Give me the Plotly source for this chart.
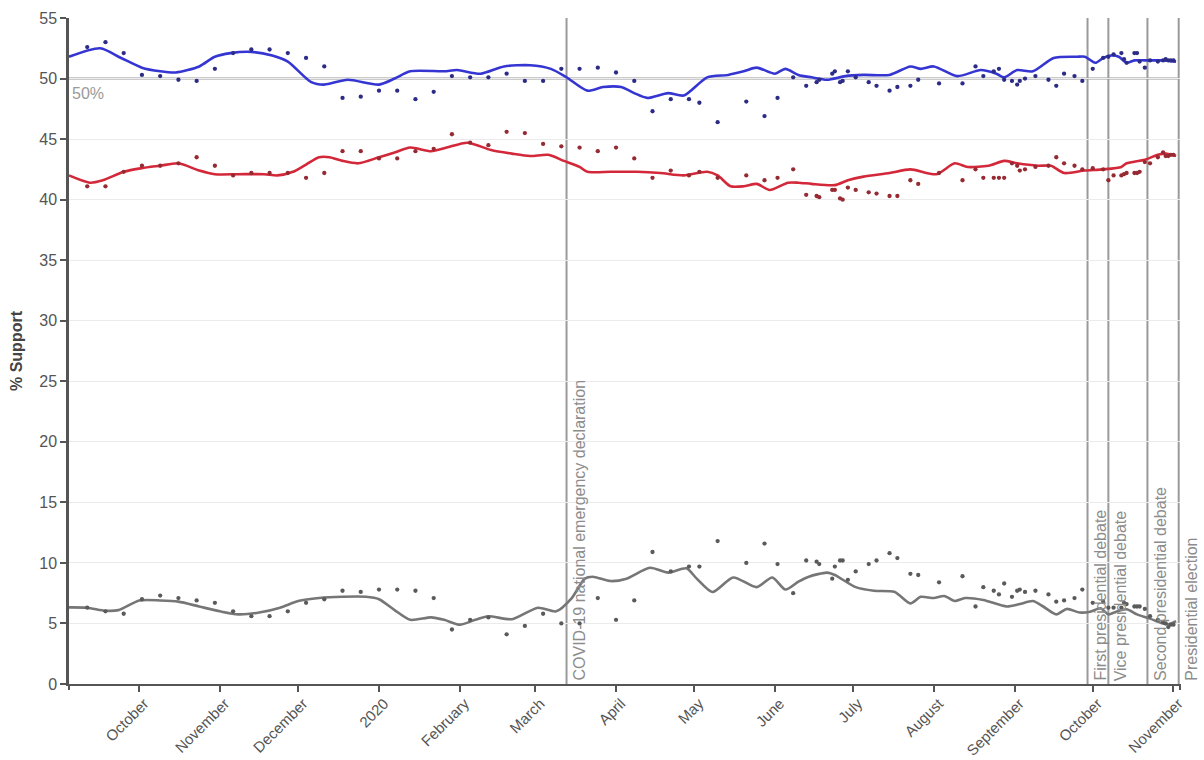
import plotly.graph_objects as go

# ---- weekly / daily poll results -------------------------------------------
poll_dates = [
    "2019-09-11", "2019-09-18", "2019-09-25", "2019-10-02", "2019-10-09", "2019-10-16", "2019-10-23", "2019-10-30",
    "2019-11-06", "2019-11-13", "2019-11-20", "2019-11-27", "2019-12-04", "2019-12-11", "2019-12-18", "2019-12-25",
    "2020-01-01", "2020-01-08", "2020-01-15", "2020-01-22", "2020-01-29", "2020-02-05", "2020-02-12", "2020-02-19",
    "2020-02-26", "2020-03-04", "2020-03-11", "2020-03-18", "2020-03-25", "2020-04-01", "2020-04-08", "2020-04-15",
    "2020-04-22", "2020-04-29", "2020-05-03", "2020-05-10", "2020-05-21", "2020-05-28", "2020-06-02", "2020-06-08",
    "2020-06-13", "2020-06-17", "2020-06-18", "2020-06-23", "2020-06-24", "2020-06-26", "2020-06-27", "2020-06-29",
    "2020-07-02", "2020-07-07", "2020-07-10", "2020-07-15", "2020-07-18", "2020-07-23", "2020-07-26", "2020-08-03",
    "2020-08-12", "2020-08-17", "2020-08-20", "2020-08-24", "2020-08-26", "2020-08-28", "2020-08-31", "2020-09-02",
    "2020-09-03", "2020-09-05", "2020-09-09", "2020-09-14", "2020-09-17", "2020-09-20", "2020-09-24", "2020-09-27",
    "2020-10-01", "2020-10-05", "2020-10-07", "2020-10-09", "2020-10-12", "2020-10-13", "2020-10-14", "2020-10-17",
    "2020-10-18", "2020-10-19", "2020-10-21", "2020-10-23", "2020-10-26", "2020-10-28", "2020-10-29", "2020-10-30",
    "2020-10-31", "2020-11-01",
]
poll_dem = [
    52.6, 53.0, 52.1, 50.3, 50.2, 49.9, 49.8, 50.8,
    52.1, 52.4, 52.4, 52.1, 51.7, 51.0, 48.4, 48.5,
    49.0, 49.0, 48.3, 48.9, 50.2, 50.1, 50.1, 50.4,
    49.8, 49.8, 50.8, 50.8, 50.9, 50.5, 49.8, 47.3,
    48.3, 48.3, 48.0, 46.4, 48.1, 46.9, 48.4, 50.1,
    49.4, 49.7, 49.9, 50.4, 50.6, 49.7, 49.8, 50.6,
    50.1, 49.7, 49.4, 49.0, 49.3, 49.4, 49.9, 49.6,
    49.6, 51.0, 50.2, 50.6, 50.8, 49.9, 49.8, 49.5,
    49.8, 50.0, 50.2, 49.9, 49.4, 50.4, 50.2, 49.8,
    50.8, 51.7, 51.8, 52.0, 52.1, 51.6, 51.3, 52.1,
    52.1, 51.4, 50.9, 51.5, 51.4, 51.5, 51.6, 51.5,
    51.5, 51.5,
]
poll_rep = [
    41.1, 41.1, 42.3, 42.8, 42.8, 43.0, 43.5, 42.8,
    42.0, 42.2, 42.2, 42.2, 41.8, 42.2, 44.0, 44.0,
    43.4, 43.4, 44.0, 44.2, 45.4, 44.7, 44.5, 45.6,
    45.5, 44.6, 44.4, 44.3, 44.0, 44.3, 43.4, 41.8,
    42.4, 42.0, 42.3, 41.8, 42.0, 41.6, 41.8, 42.5,
    40.4, 40.3, 40.2, 40.8, 40.8, 40.1, 40.0, 41.0,
    40.8, 40.6, 40.5, 40.3, 40.3, 41.6, 41.3, 42.2,
    41.6, 42.5, 41.8, 41.8, 41.8, 41.8, 43.0, 42.8,
    42.4, 42.5, 42.7, 42.8, 43.5, 43.0, 42.8, 42.5,
    42.6, 42.5, 41.6, 42.0, 42.0, 42.1, 42.2, 42.2,
    42.2, 42.3, 43.1, 43.0, 43.5, 43.9, 43.6, 43.6,
    43.7, 43.7,
]
poll_other = [
    6.3, 6.0, 5.8, 7.0, 7.3, 7.1, 6.9, 6.7,
    6.0, 5.6, 5.6, 6.0, 6.7, 7.0, 7.7, 7.6,
    7.8, 7.8, 7.7, 7.1, 4.5, 5.3, 5.5, 4.1,
    4.8, 5.8, 5.0, 5.0, 7.1, 5.3, 6.9, 10.9,
    9.3, 9.7, 9.7, 11.8, 10.0, 11.6, 9.9, 7.5,
    10.2, 10.1, 9.9, 8.7, 9.7, 10.2, 10.2, 8.6,
    9.3, 9.9, 10.2, 10.8, 10.4, 9.1, 9.0, 8.4,
    8.9, 6.4, 8.0, 7.7, 7.4, 8.3, 7.2, 7.7,
    7.8, 7.6, 7.7, 7.4, 6.8, 6.9, 7.1, 7.8,
    6.7, 6.8, 6.3, 6.3, 6.3, 6.7, 6.6, 6.4,
    6.4, 6.4, 6.2, 5.6, 5.3, 5.1, 5.0, 4.7,
    4.9, 4.9,
]

# ---- smoothed trends ----------------------------------------------------------
dem_trend_dates = [
    "2019-09-04", "2019-09-16", "2019-09-24", "2019-10-02", "2019-10-09", "2019-10-15", "2019-10-24", "2019-10-30",
    "2019-11-05", "2019-11-13", "2019-11-21", "2019-11-27", "2019-12-06", "2019-12-11", "2019-12-20", "2020-01-01",
    "2020-01-07", "2020-01-13", "2020-01-26", "2020-01-31", "2020-02-09", "2020-02-18", "2020-02-28", "2020-03-07",
    "2020-03-13", "2020-03-21", "2020-03-27", "2020-04-03", "2020-04-08", "2020-04-13", "2020-04-21", "2020-04-27",
    "2020-05-06", "2020-05-14", "2020-05-20", "2020-05-25", "2020-06-01", "2020-06-05", "2020-06-10", "2020-06-15",
    "2020-06-21", "2020-06-28", "2020-07-05", "2020-07-15", "2020-07-23", "2020-07-27", "2020-08-01", "2020-08-10",
    "2020-08-19", "2020-08-25", "2020-08-28", "2020-09-02", "2020-09-08", "2020-09-16", "2020-09-25", "2020-09-28",
    "2020-10-02", "2020-10-05", "2020-10-08", "2020-10-11", "2020-10-14", "2020-10-17", "2020-10-21", "2020-10-25",
    "2020-10-28", "2020-11-02",
]
dem_trend = [
    51.8, 52.5, 51.7, 50.9, 50.6, 50.5, 51.0, 51.8, 52.1, 52.2, 51.9, 51.4, 49.7, 49.5, 49.9, 49.5,
    50.0, 50.6, 50.6, 50.7, 50.4, 51.0, 51.1, 50.8, 50.1, 49.0, 49.3, 49.3, 48.8, 48.4, 48.8, 48.6,
    50.1, 50.3, 50.6, 50.9, 50.4, 50.8, 50.3, 50.1, 49.9, 50.2, 50.3, 50.3, 51.0, 50.8, 51.0, 50.2,
    50.7, 50.4, 50.1, 50.7, 50.6, 51.7, 51.8, 51.8, 51.3, 51.7, 51.9, 51.8, 51.3, 51.5, 51.5, 51.5,
    51.5, 51.4,
]

rep_trend_dates = [
    "2019-09-04", "2019-09-12", "2019-09-17", "2019-09-25", "2019-10-02", "2019-10-09", "2019-10-16", "2019-10-24",
    "2019-10-30", "2019-11-08", "2019-11-18", "2019-11-23", "2019-11-29", "2019-12-04", "2019-12-09", "2019-12-13",
    "2019-12-18", "2019-12-24", "2020-01-01", "2020-01-07", "2020-01-13", "2020-01-21", "2020-01-27", "2020-02-04",
    "2020-02-13", "2020-02-21", "2020-02-28", "2020-03-06", "2020-03-12", "2020-03-18", "2020-03-21", "2020-03-30",
    "2020-04-09", "2020-04-18", "2020-04-27", "2020-05-06", "2020-05-10", "2020-05-15", "2020-05-20", "2020-05-25",
    "2020-05-30", "2020-06-06", "2020-06-10", "2020-06-15", "2020-06-24", "2020-06-29", "2020-07-05", "2020-07-15",
    "2020-07-23", "2020-08-02", "2020-08-09", "2020-08-14", "2020-08-22", "2020-08-28", "2020-09-02", "2020-09-10",
    "2020-09-15", "2020-09-20", "2020-09-28", "2020-10-05", "2020-10-12", "2020-10-14", "2020-10-21", "2020-10-26",
    "2020-10-29", "2020-11-02",
]
rep_trend = [
    42.0, 41.4, 41.6, 42.3, 42.6, 42.8, 43.0, 42.4, 42.1, 42.1, 42.1, 42.0, 42.3, 42.9, 43.5, 43.5,
    43.2, 43.0, 43.5, 43.9, 44.3, 44.0, 44.3, 44.7, 44.1, 43.8, 43.6, 43.7, 43.2, 42.7, 42.3, 42.3,
    42.3, 42.2, 42.0, 42.3, 42.0, 41.1, 41.1, 41.3, 40.8, 41.4, 41.4, 41.3, 41.2, 41.6, 41.9, 42.2,
    42.5, 42.1, 43.0, 42.7, 42.8, 43.2, 43.0, 42.8, 42.8, 42.2, 42.4, 42.5, 42.7, 43.0, 43.3, 43.7,
    43.8, 43.6,
]

other_trend_dates = [
    "2019-09-04", "2019-09-11", "2019-09-18", "2019-09-23", "2019-10-01", "2019-10-09", "2019-10-16", "2019-10-24",
    "2019-11-01", "2019-11-08", "2019-11-16", "2019-11-24", "2019-12-01", "2019-12-09", "2019-12-18", "2019-12-27",
    "2020-01-01", "2020-01-07", "2020-01-13", "2020-01-21", "2020-01-26", "2020-02-01", "2020-02-07", "2020-02-12",
    "2020-02-21", "2020-03-02", "2020-03-09", "2020-03-15", "2020-03-20", "2020-03-23", "2020-03-30", "2020-04-05",
    "2020-04-14", "2020-04-21", "2020-04-28", "2020-05-02", "2020-05-08", "2020-05-16", "2020-05-25", "2020-05-31",
    "2020-06-05", "2020-06-10", "2020-06-14", "2020-06-21", "2020-06-24", "2020-07-02", "2020-07-09", "2020-07-17",
    "2020-07-23", "2020-07-27", "2020-08-01", "2020-08-05", "2020-08-09", "2020-08-13", "2020-08-20", "2020-08-29",
    "2020-09-03", "2020-09-08", "2020-09-12", "2020-09-17", "2020-09-21", "2020-09-26", "2020-09-30", "2020-10-04",
    "2020-10-07", "2020-10-10", "2020-10-14", "2020-10-18", "2020-10-23", "2020-10-27", "2020-10-30", "2020-11-02",
]
other_trend = [
    6.33, 6.3, 6.05, 6.1, 6.9, 6.9, 6.8, 6.4, 6.0, 5.75, 5.9, 6.3, 6.85, 7.1, 7.2, 7.2,
    7.0, 6.1, 5.3, 5.5, 5.3, 4.9, 5.3, 5.6, 5.35, 6.3, 6.0, 7.1, 8.7, 8.86, 8.5, 8.7,
    9.6, 9.2, 9.55, 8.7, 7.6, 8.8, 8.0, 8.8, 7.8, 8.45, 8.86, 9.2, 9.0, 8.0, 7.7, 7.6,
    6.66, 7.2, 7.1, 7.27, 6.85, 7.1, 6.94, 6.4, 6.6, 6.85, 6.4, 5.75, 6.2, 5.9, 5.97, 6.25,
    5.75, 5.97, 6.17, 5.75, 5.4, 5.06, 4.93, 5.2,
]

# ---- axis ticks and events -------------------------------------------------------
month_ticks = [
    "2019-10-01", "2019-11-01", "2019-12-01", "2020-01-01", "2020-02-01", "2020-03-01", "2020-04-01",
    "2020-05-01", "2020-06-01", "2020-07-01", "2020-08-01", "2020-09-01", "2020-10-01", "2020-11-01",
]
month_labels = [
    "October", "November", "December", "2020", "February", "March", "April",
    "May", "June", "July", "August", "September", "October", "November",
]
event_dates = ["2020-03-13", "2020-09-29", "2020-10-07", "2020-10-22", "2020-11-03"]
event_labels = [
    "COVID-19 national emergency declaration",
    "First presidential debate",
    "Vice presidential debate",
    "Second presidential debate",
    "Presidential election",
]

FONT = "Liberation Sans, Arial, Helvetica, sans-serif"
X_START, X_END = "2019-09-04", "2020-11-03 12:00"

series = [
    (dem_trend_dates, dem_trend, poll_dem, "#3535d2", "#2c2c86"),
    (rep_trend_dates, rep_trend, poll_rep, "#d3283a", "#962a32"),
    (other_trend_dates, other_trend, poll_other, "#767676", "#5a5a5a"),
]

fig = go.Figure()
for t_dates, t_vals, p_vals, line_col, dot_col in series:
    fig.add_trace(go.Scatter(
        x=t_dates, y=t_vals, mode="lines",
        line=dict(color=line_col, width=2.6, shape="spline", smoothing=0.7),
        hoverinfo="skip", showlegend=False,
    ))
for t_dates, t_vals, p_vals, line_col, dot_col in series:
    fig.add_trace(go.Scatter(
        x=poll_dates, y=p_vals, mode="markers",
        marker=dict(color=dot_col, size=4.3),
        showlegend=False,
    ))

shapes = []
# 50% reference line
shapes.append(dict(type="line", xref="paper", x0=0, x1=0.998, yref="y", y0=50, y1=50,
                   line=dict(color="#9a9a9a", width=2), layer="below"))
# event markers
for d in event_dates:
    shapes.append(dict(type="line", xref="x", x0=d, x1=d, yref="y", y0=0, y1=55,
                       line=dict(color="#9a9a9a", width=2), layer="below"))
# outer ticks at both ends of the time axis
for xp in (0, 1):
    shapes.append(dict(type="line", xref="paper", x0=xp, x1=xp, yref="paper", y0=0, y1=-0.009,
                       line=dict(color="#555555", width=2)))

annotations = [
    dict(text="50%", xref="paper", x=0, y=50, yref="y", xanchor="left", yanchor="top",
         xshift=1, yshift=-4, showarrow=False, font=dict(family=FONT, size=16, color="#9a9a9a")),
    dict(text="<b>% Support</b>", xref="paper", x=0, xshift=-53, xanchor="center",
         yref="paper", y=0.5, yanchor="middle",
         textangle=-90, showarrow=False, font=dict(family=FONT, size=16, color="#444444")),
]
for d, lab in zip(event_dates, event_labels):
    annotations.append(dict(
        text=lab, x=d, xref="x", y=0, yref="y", textangle=-90,
        xanchor="left", yanchor="bottom", xshift=2, yshift=1, showarrow=False,
        font=dict(family=FONT, size=16, color="#8c8c8c"),
    ))

fig.update_layout(
    width=1204, height=760,
    margin=dict(l=69, r=24, t=18, b=76, autoexpand=False),
    paper_bgcolor="white", plot_bgcolor="white",
    font=dict(family=FONT, color="#555555"),
    shapes=shapes, annotations=annotations,
    xaxis=dict(
        range=[X_START, X_END], tickmode="array", tickvals=month_ticks, ticktext=month_labels,
        tickangle=-45, tickfont=dict(size=15, color="#555555"), automargin=False,
        ticklabelshift=5, ticklabelstandoff=-3,
        showgrid=False, zeroline=False, showline=True, linecolor="#555555", linewidth=2,
        ticks="outside", ticklen=6, tickwidth=1.5, tickcolor="#555555",
    ),
    yaxis=dict(
        range=[0, 55], dtick=5, tickfont=dict(size=16, color="#555555"), automargin=False,
        showgrid=True, gridcolor="#ebebeb", gridwidth=1, zeroline=False,
        showline=True, linecolor="#555555", linewidth=2.5,
        ticks="outside", ticklen=6, tickwidth=1.5, tickcolor="#555555",
    ),
)

fig.write_html("out.html")
